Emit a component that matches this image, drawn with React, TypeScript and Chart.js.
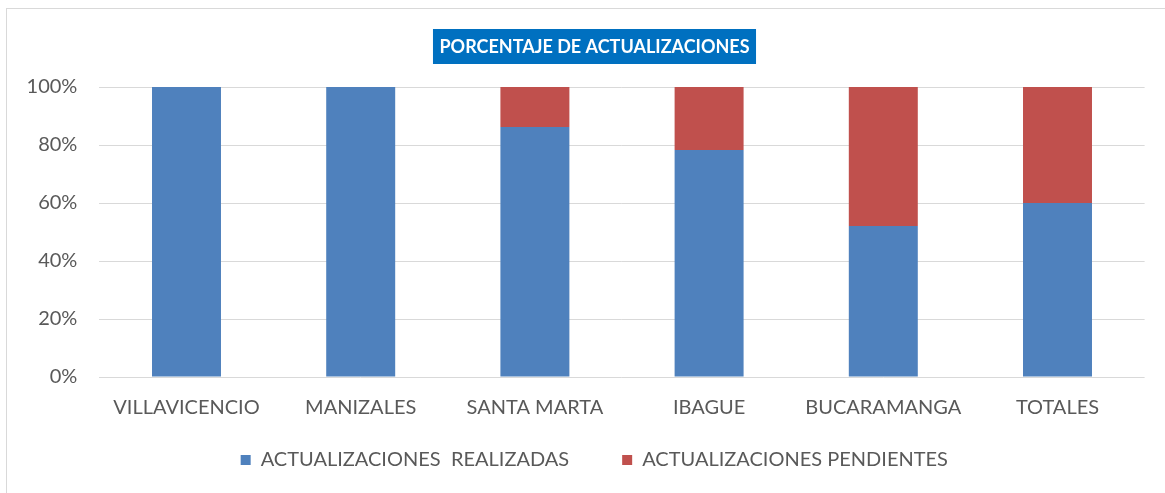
import React, { useEffect, useRef } from "react";
import { Chart, registerables } from "chart.js";

Chart.register(...registerables);

const categories = ["VILLAVICENCIO", "MANIZALES", "SANTA MARTA", "IBAGUE", "BUCARAMANGA", "TOTALES"];
const realizadas = [100, 100, 86.2, 78.3, 52.1, 60];
const pendientes = [0, 0, 13.8, 21.7, 47.9, 40];
const yTicks = [0, 20, 40, 60, 80, 100];
const titleText = "PORCENTAJE DE ACTUALIZACIONES";
const seriesNames = ["ACTUALIZACIONES  REALIZADAS", "ACTUALIZACIONES PENDIENTES"];

const FONT = "Lato, 'Open Sans', sans-serif";
const TITLE_CX = 594.5;
const LEGEND_SHIFT_X = 22;
const LEGEND_SHIFT_Y = -42;

const titlePlugin = {
  id: "boxTitle",
  afterDraw(chart: any) {
    const ctx = chart.ctx;
    ctx.save();
    ctx.font = `bold 18px ${FONT}`;
    const w = ctx.measureText(titleText).width;
    const cy = 46.5;
    const bw = w + 13;
    const bh = 35;
    ctx.fillStyle = "#0070C0";
    ctx.fillRect(TITLE_CX - bw / 2, cy - bh / 2, bw, bh);
    ctx.fillStyle = "#FFFFFF";
    ctx.textAlign = "center";
    ctx.textBaseline = "middle";
    ctx.fillText(titleText, TITLE_CX, cy + 1);
    ctx.restore();
  },
};

const legendShiftPlugin = {
  id: "legendShift",
  afterLayout(chart: any) {
    const lg = chart.legend;
    if (lg) {
      lg.left += LEGEND_SHIFT_X;
      lg.right += LEGEND_SHIFT_X;
      lg.top += LEGEND_SHIFT_Y;
      lg.bottom += 60;
      lg.height = lg.bottom - lg.top;
    }
  },
};

export default function App() {
  const ref = useRef<HTMLCanvasElement | null>(null);

  useEffect(() => {
    if (!ref.current) return;
    const chart = new Chart(ref.current, {
      type: "bar",
      data: {
        labels: categories,
        datasets: [
          {
            label: seriesNames[0],
            data: realizadas,
            backgroundColor: "#4F81BD",
            borderWidth: 0,
            categoryPercentage: 1,
            barPercentage: 0.396,
          },
          {
            label: seriesNames[1],
            data: pendientes,
            backgroundColor: "#C0504D",
            borderWidth: 0,
            categoryPercentage: 1,
            barPercentage: 0.396,
          },
        ],
      },
      options: {
        responsive: false,
        animation: false,
        maintainAspectRatio: false,
        layout: { padding: { top: 87, right: 20.4, bottom: 0, left: 0 } },
        plugins: {
          title: { display: false },
          tooltip: { enabled: false },
          legend: {
            position: "bottom",
            maxHeight: 54,
            labels: {
              boxWidth: 10,
              boxHeight: 10,
              padding: 53,
              color: "#595959",
              font: { family: FONT, size: 20 },
            },
          },
        },
        scales: {
          x: {
            stacked: true,
            grid: { display: false, drawTicks: false },
            border: { display: false },
            ticks: {
              color: "#595959",
              font: { family: FONT, size: 20 },
              padding: 19,
              maxRotation: 0,
              autoSkip: false,
            },
            afterFit(scale: any) {
              scale.height = 62;
            },
          },
          y: {
            stacked: true,
            min: 0,
            max: 100,
            afterBuildTicks(scale: any) {
              scale.ticks = yTicks.map((v) => ({ value: v }));
            },
            grid: { color: "#D9D9D9", lineWidth: 1, drawTicks: false },
            border: { display: false },
            ticks: {
              color: "#595959",
              font: { family: FONT, size: 20 },
              padding: 22,
              callback: (v: any) => `${v}%`,
            },
            afterFit(scale: any) {
              scale.width = 99.4;
            },
          },
        },
      },
      plugins: [titlePlugin, legendShiftPlugin],
    });
    return () => chart.destroy();
  }, []);

  return (
    <div style={{ position: "fixed", left: 0, top: 0, width: 1165, height: 493, overflow: "hidden", background: "#fff" }}>
      <div
        style={{
          position: "absolute",
          left: 6,
          top: 8,
          width: 1200,
          height: 600,
          border: "1px solid #D9D9D9",
        }}
      />
      <canvas ref={ref} width={1165} height={493} style={{ position: "absolute", left: 0, top: 0 }} />
    </div>
  );
}
